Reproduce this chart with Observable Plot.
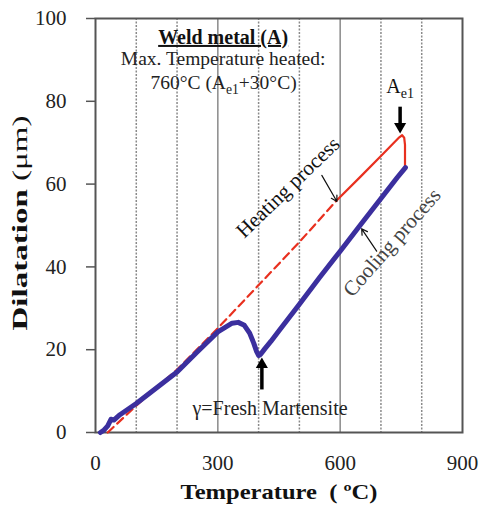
<!DOCTYPE html>
<html><head><meta charset="utf-8">
<script src="https://cdn.jsdelivr.net/npm/d3@7"></script>
<script src="https://cdn.jsdelivr.net/npm/@observablehq/plot@0.6"></script>
<style>body{margin:0;background:#fff;}</style>
</head><body><div id="chart"></div>
<script>
// Heating curve (red): dashed part, then solid part up to Ae1 peak and drop
const heatDashTemp = [30, 100, 200, 300, 400, 500, 590];
const heatDashDil  = [0, 6.5, 15.2, 25.2, 35.6, 46.0, 55.9];
const heatSolidTemp = [590, 650, 700, 730, 745, 752, 757, 759, 759];
const heatSolidDil  = [55.9, 61.8, 66.8, 69.8, 71.3, 71.8, 71.2, 69.5, 64];
// Cooling curve (blue)
const coolTemp = [760, 740, 700, 650, 600, 550, 500, 450, 430, 415, 405, 400, 395, 388, 378, 365, 350, 335, 320, 300, 250, 200, 150, 100, 60, 45, 38, 30, 20, 12];
const coolDil  = [64, 61.6, 56.5, 50.2, 43.8, 37.5, 31.0, 24.6, 22.0, 20.2, 18.9, 18.6, 19.6, 21.6, 24.0, 25.9, 26.6, 26.4, 25.5, 24.3, 19.5, 14.6, 10.8, 7.0, 4.3, 3.0, 3.2, 1.6, 0.5, 0];
// Axes
const yTicks = [0, 20, 40, 60, 80, 100];
const xTicks = [0, 300, 600, 900];
const solidGrid = [300, 600];
const dottedGrid = [100, 200, 400, 500, 700, 800];
// Texts
const titleText = "Weld metal (A)";
const subText1 = "Max. Temperature heated:";
const subText2 = "760°C (A_{e1}+30°C)";
const ae1Text = "A_{e1}";
const heatingText = "Heating process";
const coolingText = "Cooling process";
const martText = "γ=Fresh Martensite";
const xLabel = "Temperature  ( ºC)";
const yLabel = "Dilatation (μm)";

const serif = "'Liberation Serif', 'Times New Roman', serif";
const pts = (xs, ys) => xs.map((x, i) => ({x, y: ys[i]}));
const heatDash = pts(heatDashTemp, heatDashDil);
const heatSolid = pts(heatSolidTemp, heatSolidDil);
const cooling = pts(coolTemp, coolDil);

const chart = Plot.plot({
  width: 484, height: 517,
  marginLeft: 95, marginRight: 22, marginTop: 18, marginBottom: 85,
  x: {domain: [0, 900]},
  y: {domain: [0, 100]},
  style: {fontFamily: serif, fontSize: "20px", color: "#222", background: "#fff"},
  marks: [
    Plot.ruleX(dottedGrid, {stroke: "#8a8a8a", strokeWidth: 1.5, strokeDasharray: "2,1.5"}),
    Plot.ruleX(solidGrid, {stroke: "#8a8a8a", strokeWidth: 1.5}),
    Plot.frame({stroke: "#555", strokeWidth: 2}),
    Plot.axisY({ticks: yTicks, tickSize: 9, tickPadding: 20, stroke: "#555", strokeWidth: 1.5, fontSize: 21, fill: "#222", label: null}),
    Plot.axisX({ticks: xTicks, tickSize: 0, tickPadding: 23, fontSize: 21, fill: "#222", label: null}),
    Plot.line(heatDash, {x: "x", y: "y", stroke: "#e8301f", strokeWidth: 2.2, strokeDasharray: "8,5"}),
    Plot.line(heatSolid, {x: "x", y: "y", stroke: "#e8301f", strokeWidth: 2.2, strokeLinejoin: "round"}),
    Plot.line(cooling, {x: "x", y: "y", stroke: "#3b2f9e", strokeWidth: 5, strokeLinejoin: "round", strokeLinecap: "round"}),
    // titles
    Plot.text([titleText], {x: 313, y: 95.4, fontWeight: "bold", fontSize: 20, fill: "#111"}),
    Plot.text([subText1], {x: 313, y: 90.2, fontSize: 19.5, fill: "#222"}),
    Plot.text([subText2], {x: 314, y: 84.4, fontSize: 19.5, fill: "#222"}),
    Plot.text([ae1Text], {x: 747, y: 83.5, fontSize: 20, fill: "#111"}),
    // Ae1 arrow
    Plot.link([0], {x1: 747, x2: 747, y1: 78.7, y2: 74.4, stroke: "#000", strokeWidth: 3.5}),
    Plot.dot([0], {x: 747, y: 73.9, symbol: "triangle", r: 4.5, rotate: 180, fill: "#000", stroke: null}),
    // martensite arrow
    Plot.link([0], {x1: 408, x2: 408, y1: 10.4, y2: 16.0, stroke: "#000", strokeWidth: 3.5}),
    Plot.dot([0], {x: 408, y: 16.4, symbol: "triangle", r: 4.5, fill: "#000", stroke: null}),
    Plot.text([martText], {x: 428, y: 5.8, fontSize: 20, fill: "#222"}),
    // process labels
    Plot.text([heatingText], {x: 472, y: 59.2, rotate: -44, fontSize: 21, fill: "#111"}),
    Plot.arrow([0], {x1: 555, y1: 62.1, x2: 592, y2: 55.8, stroke: "#111", strokeWidth: 1.2, headLength: 8}),
    Plot.text([coolingText], {x: 727, y: 45.9, rotate: -48.7, fontSize: 21, fill: "#444"}),
    Plot.arrow([0], {x1: 689.5, y1: 43.8, x2: 652.7, y2: 49.2, stroke: "#111", strokeWidth: 1.2, headLength: 8}),
    // axis labels
    Plot.text([yLabel], {frameAnchor: "left", textAnchor: "start", dx: -75, dy: 105, rotate: -90, fontSize: 20, fontWeight: "bold", fill: "#111"}),
    Plot.text([xLabel], {frameAnchor: "bottom", dx: 0, dy: 66, fontSize: 22, fontWeight: "bold", fill: "#111"})
  ]
});
document.getElementById("chart").append(chart);

// post-process: subscripts, underline, mixed weights
d3.select(chart).selectAll("text").each(function() {
  const t = this.textContent;
  const sel = d3.select(this);
  if (t === titleText) sel.style("text-decoration", "underline");
  if (t.includes("_{")) {
    const parts = t.split(/(_\{[^}]*\})/).filter(p => p);
    this.textContent = "";
    let shifted = false;
    parts.forEach(p => {
      const ts = sel.append("tspan");
      if (p.startsWith("_{")) {
        ts.text(p.slice(2, -1)).attr("font-size", "0.7em").attr("dy", 5);
        shifted = true;
      } else {
        ts.text(p);
        if (shifted) { ts.attr("dy", -5); shifted = false; }
      }
    });
  }
  if (t === yLabel) {
    this.textContent = "";
    sel.append("tspan").text("Dilatation");
    sel.append("tspan").attr("font-weight", "normal").text(" (μm)");
    sel.attr("textLength", 215).attr("lengthAdjust", "spacingAndGlyphs");
  }
  if (t === xLabel) {
    sel.attr("textLength", 197).attr("lengthAdjust", "spacingAndGlyphs");
  }
});
</script>
</body></html>
